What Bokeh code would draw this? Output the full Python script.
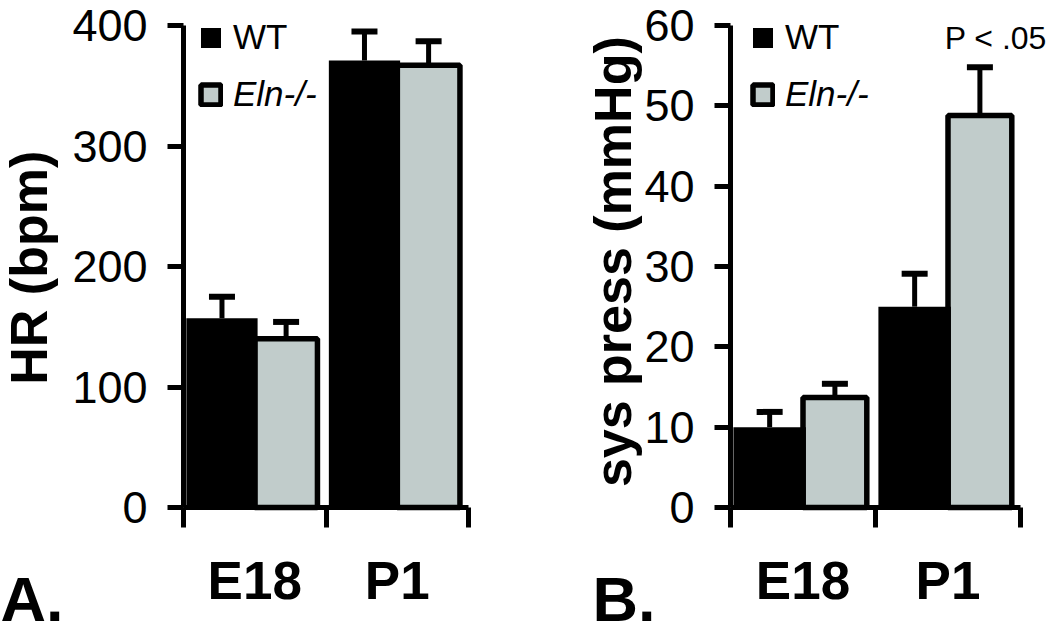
import math
from bokeh.plotting import figure
from bokeh.layouts import row
from bokeh.models import (ColumnDataSource, FixedTicker, Whisker, TeeHead, Legend,
                          LegendItem, Label, Range1d, LinearAxis)
from bokeh.embed import file_html
from bokeh.resources import INLINE

# ---------------- data ----------------
categories = ["E18", "P1"]
series_names = ["WT", "Eln-/-"]

hr_wt = [157, 371]
hr_wt_err = [18, 24]
hr_eln = [140, 367]
hr_eln_err = [14, 20]
hr_ticks = [0, 100, 200, 300, 400]

bp_wt = [10.0, 25.0]
bp_wt_err = [1.9, 4.1]
bp_eln = [13.7, 48.8]
bp_eln_err = [1.7, 6.0]
bp_ticks = [0, 10, 20, 30, 40, 50, 60]

note_text = "P < .05"

# ---------------- style / layout ----------------
GRAY = "#c1cccb"
FONT = "Liberation Sans"
H = 633          # figure height
Y_TOP = 25       # pixel row of the top tick (from figure top)
Y_ZERO = 507     # pixel row of value 0 (from figure top)
LEG_H = 39       # height of a one-entry legend (set by its 35px label)


def panel(width, axis_px, cat_px, ymax, yticks, ylabel, ylabel_x, ylabel_y,
          wt, wt_err, eln, eln_err, letter, letter_x, legend_x, note=None, note_x=None,
          note_y=None):
    ppu = (Y_ZERO - Y_TOP) / ymax
    n = len(categories)
    x_range = Range1d(-axis_px / cat_px, (width - axis_px) / cat_px)
    y_range = Range1d(-(H - Y_ZERO) / ppu, ymax + Y_TOP / ppu)
    p = figure(width=width, height=H, x_range=x_range, y_range=y_range,
               output_backend="svg", toolbar_location=None,
               x_axis_location=None, y_axis_location=None,
               min_border_left=0, min_border_right=0, min_border_top=0, min_border_bottom=0)
    p.outline_line_color = None
    p.xgrid.visible = False
    p.ygrid.visible = False
    p.background_fill_color = "white"
    p.border_fill_color = "white"

    idx = list(range(n))
    wt_x = [i + 0.27 for i in idx]
    eln_x = [i + 0.72 for i in idx]

    eln_src = ColumnDataSource(dict(x=eln_x, top=eln, upper=[v + e for v, e in zip(eln, eln_err)]))
    wt_src = ColumnDataSource(dict(x=wt_x, top=wt, upper=[v + e for v, e in zip(wt, wt_err)]))

    eln_r = p.vbar(x="x", top="top", bottom=0, width=0.44, source=eln_src,
                   fill_color=GRAY, line_color="black", line_width=5.5)
    wt_r = p.vbar(x="x", top="top", bottom=0, width=0.5, source=wt_src,
                  fill_color="black", line_color=None)

    for src in (wt_src, eln_src):
        p.add_layout(Whisker(base="x", lower="top", upper="upper", dimension="height",
                             source=src, line_color="black", line_width=5,
                             upper_head=TeeHead(size=26, line_width=6, line_color="black"),
                             lower_head=None))

    # x axis, pinned at value 0
    xa = LinearAxis(fixed_location=0, bounds=(0, n))
    xa.ticker = FixedTicker(ticks=[i + 0.5 for i in idx], minor_ticks=list(range(n + 1)))
    xa.major_label_overrides = {i + 0.5: c for i, c in zip(idx, categories)}
    xa.major_tick_line_color = None
    xa.major_tick_out = 20
    xa.major_tick_in = 0
    xa.minor_tick_line_color = "black"
    xa.minor_tick_line_width = 5
    xa.minor_tick_out = 20
    xa.minor_tick_in = 0
    xa.axis_line_width = 5
    xa.axis_line_color = "black"
    xa.major_label_text_font = FONT
    xa.major_label_text_font_size = "53px"
    xa.major_label_text_font_style = "bold"
    xa.major_label_text_color = "black"
    xa.major_label_standoff = 23
    p.add_layout(xa, "below")

    # y axis, pinned at x = 0
    ya = LinearAxis(fixed_location=0, bounds=(0, ymax))
    ya.ticker = FixedTicker(ticks=yticks, minor_ticks=[])
    ya.major_tick_out = 16
    ya.major_tick_in = 0
    ya.major_tick_line_width = 5
    ya.major_tick_line_color = "black"
    ya.minor_tick_line_color = None
    ya.axis_line_width = 5
    ya.axis_line_color = "black"
    ya.major_label_text_font = FONT
    ya.major_label_text_font_size = "45px"
    ya.major_label_text_color = "black"
    ya.major_label_standoff = 20
    p.add_layout(ya, "left")

    # y axis title
    p.add_layout(Label(x=ylabel_x, y=ylabel_y, x_units="screen", y_units="data",
                       text=ylabel, angle=math.pi / 2, text_align="center",
                       text_baseline="middle", text_font=FONT, text_font_size="52px",
                       text_font_style="bold", text_color="black"))

    # legends (one per entry so only the mutant label is italic)
    common = dict(glyph_width=25, glyph_height=25, label_height=25, label_standoff=10,
                  padding=0, margin=0, spacing=0, border_line_color=None,
                  background_fill_alpha=0, label_text_font=FONT,
                  label_text_font_size="35px", label_text_color="black")
    leg1 = Legend(items=[LegendItem(label=series_names[0], renderers=[wt_r])],
                  location=(legend_x, H - 18 - LEG_H), **common)
    leg2 = Legend(items=[LegendItem(label=series_names[1], renderers=[eln_r])],
                  location=(legend_x, H - 75 - LEG_H), label_text_font_style="italic",
                  **common)
    p.add_layout(leg1)
    p.add_layout(leg2)

    # panel letter
    p.add_layout(Label(x=letter_x, y=H - 598, x_units="screen", y_units="screen",
                       text=letter, text_font=FONT, text_font_size="63px",
                       text_font_style="bold", text_color="black", text_baseline="middle"))
    if note is not None:
        p.add_layout(Label(x=note_x, y=note_y, text=note, text_align="center",
                           text_baseline="middle", text_font=FONT, text_font_size="32px",
                           text_color="black"))
    return p


pA = panel(520, 183, 142.5, 400, hr_ticks, "HR (bpm)", 28, 199,
           hr_wt, hr_wt_err, hr_eln, hr_eln_err, "A.", 0, 198)
pB = panel(530, 210, 145, 60, bp_ticks, "sys press (mmHg)", 92, 30.6,
           bp_wt, bp_wt_err, bp_eln, bp_eln_err, "B.", 72, 230,
           note=note_text, note_x=1.83, note_y=58.4)

layout = row(pA, pB)
open("out.html", "w").write(file_html(layout, INLINE))
